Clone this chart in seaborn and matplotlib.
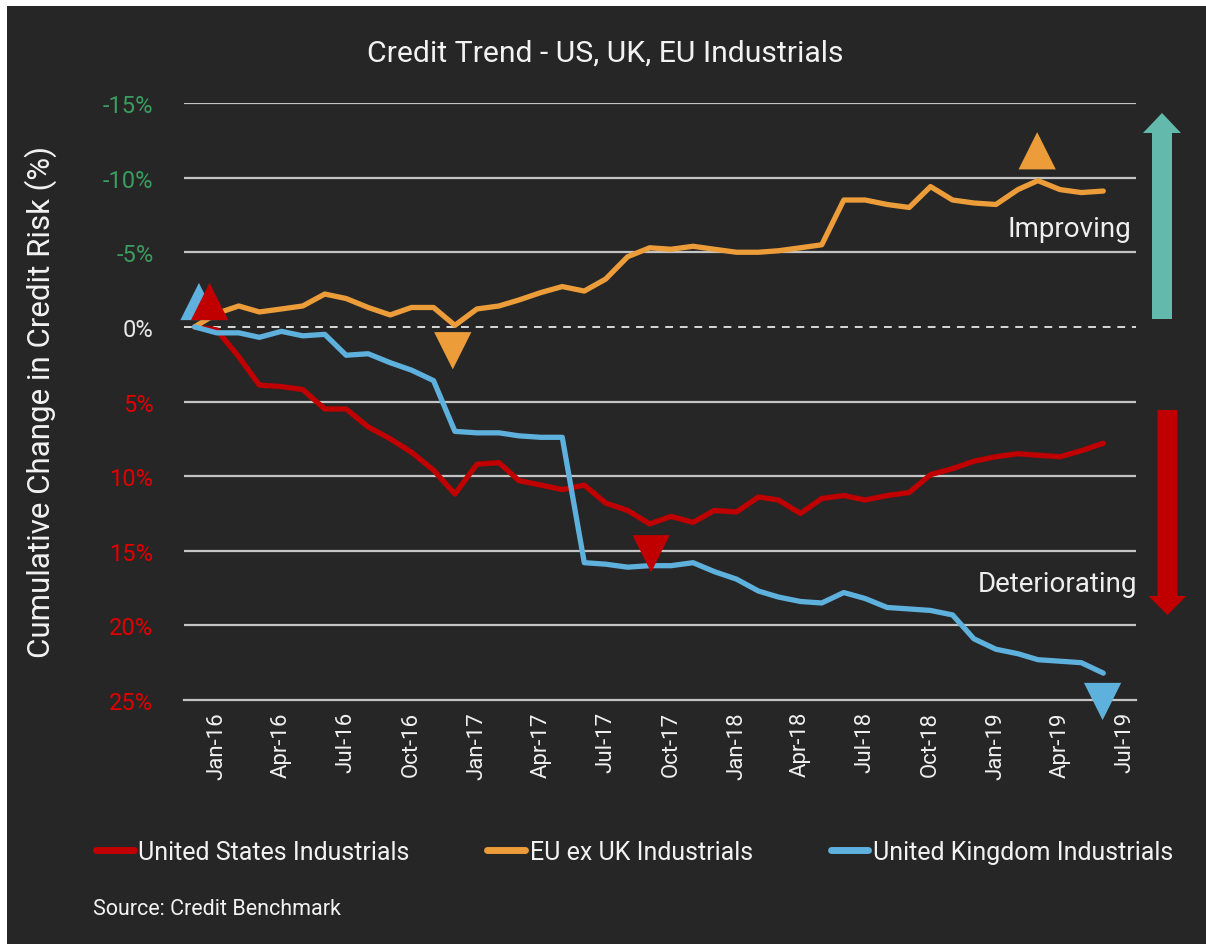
import numpy as np
import pandas as pd
import matplotlib
matplotlib.use("Agg")
import matplotlib.pyplot as plt
import matplotlib.dates as mdates
from matplotlib.patches import Rectangle, FancyArrow
from matplotlib.lines import Line2D
import seaborn as sns

W, H = 1206, 945

# ---------------- data ----------------
start_month = "2015-12-01"
n_months = 43
series_names = ["United States Industrials", "EU ex UK Industrials", "United Kingdom Industrials"]
# cumulative change in credit risk, % (positive = deteriorating)
us_values = [0.0, 0.2, 2.0, 3.9, 4.0, 4.2, 5.5, 5.5, 6.7, 7.5, 8.4, 9.6, 11.2,
             9.2, 9.1, 10.3, 10.6, 10.9, 10.6, 11.8, 12.3, 13.2, 12.7, 13.1, 12.3,
             12.4, 11.4, 11.6, 12.5, 11.5, 11.3, 11.6, 11.3, 11.1, 9.9, 9.5, 9.0,
             8.7, 8.5, 8.6, 8.7, 8.3, 7.8]
eu_values = [0.0, -0.9, -1.4, -1.0, -1.2, -1.4, -2.2, -1.9, -1.3, -0.8, -1.3, -1.3, -0.1,
             -1.2, -1.4, -1.8, -2.3, -2.7, -2.4, -3.2, -4.7, -5.3, -5.2, -5.4, -5.2,
             -5.0, -5.0, -5.1, -5.3, -5.5, -8.5, -8.5, -8.2, -8.0, -9.4, -8.5, -8.3,
             -8.2, -9.2, -9.8, -9.2, -9.0, -9.1]
uk_values = [0.0, 0.4, 0.4, 0.7, 0.3, 0.6, 0.5, 1.9, 1.8, 2.4, 2.9, 3.6, 7.0,
             7.1, 7.1, 7.3, 7.4, 7.4, 15.8, 15.9, 16.1, 16.0, 16.0, 15.8, 16.4,
             16.9, 17.7, 18.1, 18.4, 18.5, 17.8, 18.2, 18.8, 18.9, 19.0, 19.3, 20.9,
             21.6, 21.9, 22.3, 22.4, 22.5, 23.2]

ytick_values = [-15, -10, -5, 0, 5, 10, 15, 20, 25]

# highlight triangles (date, value, marker, series index)
marker_dates = ["2015-12-07", "2015-12-22", "2016-11-28", "2017-09-03", "2019-02-28", "2019-05-31"]
marker_values = [-1.7, -1.7, 1.6, 15.2, -11.8, 25.1]
marker_shapes = ["^", "^", "v", "v", "^", "v"]
marker_series = [2, 0, 1, 0, 1, 2]

# ---------------- style ----------------
BG = "#262626"
GRID = "#c4c4c4"
colors = ["#c00000", "#ec9d3a", "#5eb1dc"]
palette = dict(zip(series_names, colors))

sns.set_theme(style="dark")
plt.rcParams["font.family"] = ["Roboto", "DejaVu Sans"]

months = pd.date_range(start_month, periods=n_months, freq="MS")
df = pd.DataFrame({
    "date": np.tile(months, 3),
    "value": us_values + eu_values + uk_values,
    "series": np.repeat(series_names, n_months),
})

fig = plt.figure(figsize=(W / 100, H / 100), dpi=100, facecolor="white")
fig.patches.append(Rectangle((7 / W, 0), 1 - 7 / W, 1 - 7 / H, transform=fig.transFigure,
                             facecolor=BG, edgecolor="none", zorder=-10))

ax = fig.add_axes([184 / W, 1 - 701 / H, (1136 - 184) / W, (701 - 104) / H])
ax.set_facecolor("none")

# gridlines
for v in ytick_values:
    if v == 0:
        ax.axhline(v, color="#d8d8d8", lw=1.4, ls=(0, (4, 3.5)), zorder=1)
    elif v != 25:
        ax.axhline(v, color=GRID, lw=1.6, zorder=1)

sns.lineplot(data=df, x="date", y="value", hue="series", palette=palette,
             linewidth=3.8, ax=ax, legend=False, zorder=3)

for d, v, m, s in zip(marker_dates, marker_values, marker_shapes, marker_series):
    ax.scatter([pd.Timestamp(d)], [v], marker=m, s=720, color=colors[s],
               edgecolors="none", zorder=5, clip_on=False)

ax.set_ylim(25, -15)
ax.set_xlim(pd.Timestamp("2015-11-16"), pd.Timestamp("2019-07-17"))
ax.set_xlabel("")
ax.set_ylabel("")

for side in ["top", "left", "right"]:
    ax.spines[side].set_visible(False)
ax.spines["bottom"].set_color(GRID)
ax.spines["bottom"].set_linewidth(1.6)

ax.set_yticks(ytick_values)
ax.set_yticklabels([f"{v}%" for v in ytick_values])
for lab, v in zip(ax.get_yticklabels(), ytick_values):
    lab.set_color("#3a9c5e" if v < 0 else ("#e8e8e8" if v == 0 else "#e00000"))
ax.tick_params(axis="y", length=0, pad=22, labelsize=17)

ax.xaxis.set_major_locator(mdates.MonthLocator(bymonth=(1, 4, 7, 10)))
ax.xaxis.set_major_formatter(mdates.DateFormatter("%b-%y"))
ax.tick_params(axis="x", direction="inout", length=8, width=1.4, color=GRID,
               labelcolor="#f0f0f0", labelsize=16, labelrotation=90, pad=4)

# title, axis label
fig.text(605 / W, 1 - 62 / H, "Credit Trend - US, UK, EU Industrials", ha="center",
         va="baseline", color="#f2f2f2", fontsize=21.7)
fig.text(41 / W, 1 - 402 / H, "Cumulative Change in Credit Risk (%)", rotation=90,
         ha="center", va="center", color="#f2f2f2", fontsize=22.5)

# improving / deteriorating
fig.text(1131 / W, 1 - 237 / H, "Improving", ha="right", va="baseline",
         color="#eeeeee", fontsize=20)
fig.text(1137 / W, 1 - 592 / H, "Deteriorating", ha="right", va="baseline",
         color="#eeeeee", fontsize=20)

fig.patches.append(FancyArrow(1162 / W, 1 - 320 / H, 0, (320 - 114) / H, width=20 / W,
                              head_width=38 / W, head_length=20 / H,
                              length_includes_head=True, transform=fig.transFigure,
                              color="#63b9ac", lw=0))
fig.patches.append(FancyArrow(1167.5 / W, 1 - 411 / H, 0, -(616 - 411) / H, width=20 / W,
                              head_width=38 / W, head_length=19 / H,
                              length_includes_head=True, transform=fig.transFigure,
                              color="#c00000", lw=0))

# legend
handles = [Line2D([0], [0], color=c, lw=5, solid_capstyle="round") for c in colors]
fig.legend(handles, series_names, loc="center left", bbox_to_anchor=(86 / W, 1 - 853 / H),
           ncol=3, frameon=False, fontsize=18, labelcolor="#f2f2f2",
           handlelength=1.5, handletextpad=0.2, columnspacing=3.1, borderaxespad=0)

fig.text(93 / W, 1 - 910 / H, "Source: Credit Benchmark", ha="left", va="center",
         color="#f2f2f2", fontsize=15.5)

fig.savefig("out.png", dpi=100, facecolor=fig.get_facecolor())
